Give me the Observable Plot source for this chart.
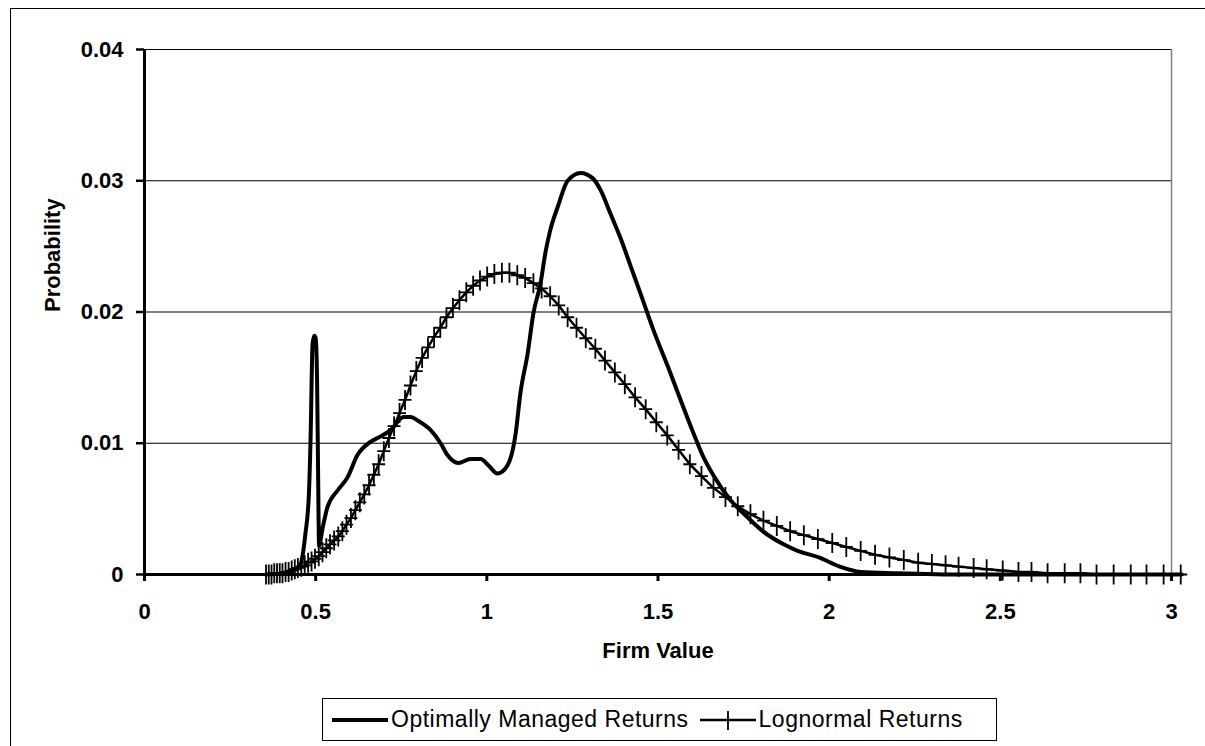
<!DOCTYPE html>
<html>
<head>
<meta charset="utf-8">
<script src="https://cdn.jsdelivr.net/npm/d3@7"></script>
<script src="https://cdn.jsdelivr.net/npm/@observablehq/plot@0.6"></script>
<style>
html, body { margin: 0; padding: 0; background: #fff; overflow: hidden; width: 1205px; height: 746px; }
body { font-family: "Liberation Sans", Arial, sans-serif; position: relative; }
#frame { position: absolute; left: 10px; top: 8px; width: 1300px; height: 900px; border: 1px solid #000; }
#chart { position: absolute; left: 0; top: 0; }
#legend { position: absolute; left: 322px; top: 698px; width: 675px; height: 43px; border: 1px solid #000;
  box-sizing: border-box; display: flex; align-items: center; font-size: 23px; letter-spacing: 0.5px; color: #000; padding-left: 6px; }
#legend span { margin-right: 8px; white-space: nowrap; }
#legend svg { display: block; }
</style>
</head>
<body>
<div id="frame"></div>
<div id="chart"></div>
<div id="legend"></div>
<script>
// ---------- data ----------
const seriesNames = ["Optimally Managed Returns", "Lognormal Returns"];

const optX = [0.355, 0.40, 0.44, 0.456, 0.470, 0.480, 0.485, 0.491, 0.496, 0.500, 0.504, 0.507, 0.510, 0.520,
  0.534, 0.564, 0.593, 0.622, 0.660, 0.681, 0.719, 0.757, 0.777, 0.800, 0.836, 0.865, 0.885, 0.917, 0.952,
  0.982, 1.005, 1.031, 1.060, 1.084, 1.098, 1.119, 1.136, 1.157, 1.171, 1.185, 1.207, 1.236, 1.274, 1.309,
  1.332, 1.361, 1.391, 1.420, 1.449, 1.487, 1.528, 1.566, 1.600, 1.630, 1.663, 1.714, 1.756, 1.806, 1.867,
  1.908, 1.970, 2.031, 2.092, 2.197, 2.400, 2.600, 3.030];
const optY = [0.0000, 0.0001, 0.0004, 0.0008, 0.0031, 0.0060, 0.0102, 0.0176, 0.0182, 0.0180, 0.0150, 0.0080, 0.0022, 0.0035,
  0.0051, 0.0064, 0.0074, 0.0091, 0.0101, 0.0104, 0.0110, 0.0120, 0.0120, 0.0117, 0.0110, 0.0100, 0.0091, 0.0085, 0.0088,
  0.0088, 0.0083, 0.0077, 0.0083, 0.0107, 0.0138, 0.0168, 0.0199, 0.0222, 0.0245, 0.0262, 0.0280, 0.0300, 0.0306, 0.0302,
  0.0293, 0.0275, 0.0256, 0.0235, 0.0214, 0.0186, 0.0159, 0.0133, 0.0110, 0.0091, 0.0075, 0.0056, 0.0045, 0.0033, 0.0023,
  0.0018, 0.0013, 0.0006, 0.0002, 0.0001, 0.0000, 0.0000, 0.0000];

const logX = [0.355, 0.363, 0.371, 0.379, 0.387, 0.395, 0.403, 0.412, 0.421, 0.430, 0.439, 0.448, 0.458, 0.468,
  0.478, 0.488, 0.498, 0.509, 0.520, 0.531, 0.542, 0.554, 0.566, 0.578, 0.590, 0.603, 0.616, 0.629, 0.642,
  0.656, 0.670, 0.684, 0.699, 0.714, 0.729, 0.745, 0.761, 0.777, 0.794, 0.811, 0.828, 0.846, 0.864, 0.882,
  0.901, 0.920, 0.940, 0.960, 0.980, 1.001, 1.022, 1.044, 1.066, 1.089, 1.112, 1.136, 1.160, 1.185, 1.210,
  1.236, 1.262, 1.289, 1.317, 1.345, 1.374, 1.403, 1.433, 1.464, 1.495, 1.527, 1.560, 1.593, 1.627, 1.662,
  1.697, 1.733, 1.770, 1.808, 1.847, 1.886, 1.926, 1.967, 2.009, 2.050, 2.092, 2.134, 2.176, 2.218, 2.260,
  2.300, 2.340, 2.378, 2.422, 2.460, 2.507, 2.553, 2.591, 2.638, 2.688, 2.734, 2.781, 2.831, 2.881, 2.927,
  2.977, 3.027];
const logY = [0.0000, 0.0000, 0.0000, 0.0001, 0.0001, 0.0001, 0.0001, 0.0002, 0.0002, 0.0003, 0.0004, 0.0005, 0.0006, 0.0007,
  0.0009, 0.0010, 0.0012, 0.0014, 0.0017, 0.0020, 0.0023, 0.0026, 0.0029, 0.0033, 0.0038, 0.0043, 0.0049, 0.0055, 0.0061,
  0.0068, 0.0076, 0.0084, 0.0094, 0.0104, 0.0113, 0.0123, 0.0133, 0.0144, 0.0155, 0.0165, 0.0173, 0.0181, 0.0188, 0.0196,
  0.0203, 0.0209, 0.0215, 0.0220, 0.0224, 0.0227, 0.0229, 0.0230, 0.0230, 0.0228, 0.0226, 0.0222, 0.0218, 0.0212, 0.0205,
  0.0196, 0.0188, 0.0180, 0.0172, 0.0163, 0.0154, 0.0145, 0.0135, 0.0126, 0.0116, 0.0106, 0.0095, 0.0084, 0.0075, 0.0066,
  0.0059, 0.0052, 0.0046, 0.0041, 0.0037, 0.0033, 0.0030, 0.0027, 0.0024, 0.0021, 0.0018, 0.0015, 0.0013, 0.0011, 0.0009,
  0.0008, 0.0007, 0.0006, 0.0005, 0.0004, 0.0003, 0.0002, 0.0002, 0.0001, 0.0001, 0.0001, 0.0000, 0.0000, 0.0000, 0.0000,
  0.0000, 0.0000];

const xTicks = [0, 0.5, 1, 1.5, 2, 2.5, 3];
const xTickLabels = ["0", "0.5", "1", "1.5", "2", "2.5", "3"];
const yTicks = [0, 0.01, 0.02, 0.03, 0.04];
const yTickLabels = ["0", "0.01", "0.02", "0.03", "0.04"];
const xTitle = "Firm Value";
const yTitle = "Probability";

// ---------- build tables ----------
const optimal = optX.map((x, i) => ({x, y: optY[i]}));
const lognormal = logX.map((x, i) => ({x, y: logY[i]}));
const xLab = new Map(xTicks.map((t, i) => [t, xTickLabels[i]]));
const yLab = new Map(yTicks.map((t, i) => [t, yTickLabels[i]]));

const FONT = "'Liberation Sans', Arial, sans-serif";
const plusSymbol = {
  draw(ctx) { ctx.moveTo(-6.5, 0); ctx.lineTo(6.5, 0); ctx.moveTo(0, -10); ctx.lineTo(0, 10); }
};

const W = 1205, H = 690;
const chart = Plot.plot({
  width: W, height: H,
  marginLeft: 144, marginRight: 34, marginTop: 49, marginBottom: H - 574,
  x: {domain: [0, 3]},
  y: {domain: [0, 0.04]},
  style: {fontFamily: FONT, background: "transparent", overflow: "visible", color: "#000"},
  marks: [
    Plot.gridY(yTicks.filter(d => d > 0), {stroke: "#000", strokeOpacity: 1, strokeWidth: 1}),
    Plot.ruleX([3], {y1: 0, y2: 0.04, stroke: "#808080", strokeWidth: 1.5}),
    Plot.line(optimal, {x: "x", y: "y", stroke: "#000", strokeWidth: 4, curve: "monotone-x", strokeLinejoin: "round"}),
    Plot.line(lognormal, {x: "x", y: "y", stroke: "#000", strokeWidth: 2.5}),
    Plot.dot(lognormal, {x: "x", y: "y", symbol: plusSymbol, fill: "none", stroke: "#000", strokeWidth: 1.8}),
    Plot.ruleX([0], {y1: 0, y2: 0.04, stroke: "#000", strokeWidth: 3}),
    Plot.ruleY([0], {x1: 0, x2: 3.03, stroke: "#000", strokeWidth: 3}),
    Plot.axisY({ticks: yTicks, tickFormat: d => yLab.get(d), tickSize: 8, tickPadding: 13, strokeWidth: 2.5,
      fontSize: 22, fontWeight: "bold", label: null}),
    Plot.axisX({ticks: xTicks, tickFormat: d => xLab.get(d), tickSize: 7, tickPadding: 22, strokeWidth: 3,
      fontSize: 22, fontWeight: "bold", label: null}),
    Plot.text([yTitle], {frameAnchor: "left", dx: -92, rotate: -90, fontSize: 22, fontWeight: "bold", text: d => d}),
    Plot.text([xTitle], {frameAnchor: "bottom", dy: 76, fontSize: 22, fontWeight: "bold", text: d => d, lineAnchor: "middle"})
  ]
});
document.getElementById("chart").appendChild(chart);

// ---------- legend ----------
const legend = document.getElementById("legend");
const ns = "http://www.w3.org/2000/svg";
function sample(withPlus, thick) {
  const s = document.createElementNS(ns, "svg");
  s.setAttribute("width", 62); s.setAttribute("height", 26);
  const l = document.createElementNS(ns, "line");
  l.setAttribute("x1", 3); l.setAttribute("x2", 59); l.setAttribute("y1", 13); l.setAttribute("y2", 13);
  l.setAttribute("stroke", "#000"); l.setAttribute("stroke-width", thick);
  s.appendChild(l);
  if (withPlus) {
    const p = document.createElementNS(ns, "path");
    p.setAttribute("d", "M25,13H37M31,4V23");
    p.setAttribute("stroke", "#000"); p.setAttribute("stroke-width", 1.8); p.setAttribute("fill", "none");
    s.appendChild(p);
  }
  return s;
}
seriesNames.forEach((name, i) => {
  legend.appendChild(sample(i === 1, i === 0 ? 4 : 2.5));
  const sp = document.createElement("span");
  sp.textContent = name;
  legend.appendChild(sp);
});
</script>
</body>
</html>
